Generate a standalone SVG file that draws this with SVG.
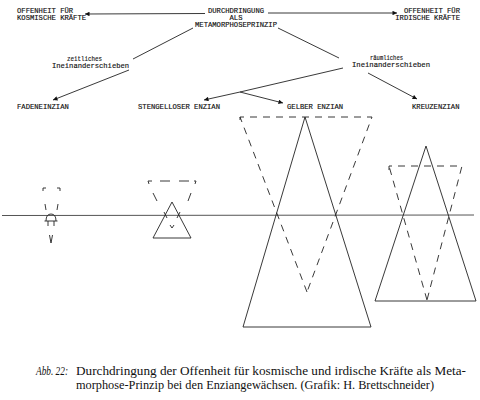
<svg xmlns="http://www.w3.org/2000/svg" width="480" height="400" viewBox="0 0 480 400">
<style>
.t{font-family:"Liberation Mono","DejaVu Sans Mono",monospace;font-size:7.2px;fill:#111;stroke:#111;stroke-width:0.15}
.c{fill:none;stroke:#222;stroke-width:0.9}
.s{fill:none;stroke:#222;stroke-width:0.9}
.d{fill:none;stroke:#222;stroke-width:0.9;stroke-dasharray:7,6}
.cap{font-family:"Liberation Serif","Times New Roman",serif;font-size:12.5px;fill:#111}
</style>
<defs>
<marker id="ah" viewBox="0 0 10 10" refX="10" refY="5" markerWidth="7" markerHeight="4.5" orient="auto" markerUnits="userSpaceOnUse">
<path d="M0,0 L10,5 L0,10 z" fill="#111"/>
</marker>
</defs>
<rect width="480" height="400" fill="#fff"/>

<g id="connectors">
<line class="c" x1="205" y1="13.5" x2="85" y2="14" marker-end="url(#ah)"/>
<line class="c" x1="268" y1="13" x2="397" y2="13" marker-end="url(#ah)"/>
<line class="c" x1="193" y1="28" x2="133" y2="59"/>
<line class="c" x1="129" y1="70" x2="53" y2="100" marker-end="url(#ah)"/>
<line class="c" x1="278" y1="28" x2="339" y2="58"/>
<line class="c" x1="343" y1="68" x2="240" y2="92"/>
<line class="c" x1="240" y1="92" x2="204" y2="100" marker-end="url(#ah)"/>
<line class="c" x1="240" y1="92" x2="283" y2="103" marker-end="url(#ah)"/>
<line class="c" x1="368" y1="73" x2="417" y2="99" marker-end="url(#ah)"/>
</g>

<g id="n-durchdringung">
<text class="t" x="236" y="12.5" text-anchor="middle">DURCHDRINGUNG</text>
<text class="t" x="236" y="19.5" text-anchor="middle">ALS</text>
<text class="t" x="236" y="27" text-anchor="middle">METAMORPHOSEPRINZIP</text>
</g>
<g id="n-kosmisch">
<text class="t" x="17" y="12.5">OFFENHEIT FÜR</text>
<text class="t" x="17" y="20">KOSMISCHE KRÄFTE</text>
</g>
<g id="n-irdisch">
<text class="t" x="460" y="12.5" text-anchor="end">OFFENHEIT FÜR</text>
<text class="t" x="460" y="19.5" text-anchor="end">IRDISCHE KRÄFTE</text>
</g>
<g id="n-zeitlich">
<text class="t" x="67" y="60.5" textLength="35" lengthAdjust="spacingAndGlyphs">zeitliches</text>
<text class="t" x="52" y="67.5" textLength="77" lengthAdjust="spacingAndGlyphs">Ineinanderschieben</text>
</g>
<g id="n-raeumlich">
<text class="t" x="370" y="60" textLength="33" lengthAdjust="spacingAndGlyphs">räumliches</text>
<text class="t" x="352" y="67" textLength="78" lengthAdjust="spacingAndGlyphs">Ineinanderschieben</text>
</g>
<g id="n-faden"><text class="t" x="17" y="108.5">FADENEINZIAN</text></g>
<g id="n-stengellos"><text class="t" x="138" y="108.5">STENGELLOSER ENZIAN</text></g>
<g id="n-gelb"><text class="t" x="287" y="108.5">GELBER ENZIAN</text></g>
<g id="n-kreuz"><text class="t" x="412" y="108.5">KREUZENZIAN</text></g>

<g id="ground">
<line x1="2" y1="215.5" x2="474" y2="215" stroke="#555" stroke-width="1"/>
</g>

<g id="fig-faden">
<path class="s" d="M43,191 L43,188 L46,188 M57,188 L60,188 L60,191 M45,204 L46,210 M58,204 L57,210"/>
<path class="s" d="M46,221 Q46,214 51,214 Q56,214 56,221 M44.5,221 L57.5,221 M48,221 L48,226 M54,221 L54,226"/>
<path class="s" d="M49.5,235 L51,243 L52.5,235"/>
</g>

<g id="fig-stengellos">
<path class="s" d="M149,184 L148,181 L152,181 M160,181 L170,181 M179,181 L189,181 M194,181 L196,181 L195,184 M153,193 L157,201 M191,193 L188,201 M164,212 L167,218 M180,212 L177,218 M170,225 L172,228 L174,225"/>
<polygon class="s" points="172,202 153,238 191,238"/>
</g>

<g id="fig-gelb">
<polyline class="d" points="240,120 240,117 372,117 307,292"/>
<polyline class="d" points="307,292 240,117"/>
<polygon class="s" points="305,117 243,327 371,327"/>
</g>

<g id="fig-kreuz">
<polyline class="d" points="389,170 389,166 462,166 427,300"/>
<polyline class="d" points="427,300 389,166"/>
<polygon class="s" points="426,146 375,301 476,301"/>
</g>

<g id="caption">
<text class="cap" x="36" y="375" font-style="italic" textLength="32" lengthAdjust="spacingAndGlyphs">Abb. 22:</text>
<text class="cap" x="76" y="375" textLength="390" lengthAdjust="spacingAndGlyphs">Durchdringung der Offenheit für kosmische und irdische Kräfte als Meta-</text>
<text class="cap" x="76" y="389" textLength="358" lengthAdjust="spacingAndGlyphs">morphose-Prinzip bei den Enziangewächsen. (Grafik: H. Brettschneider)</text>
</g>
</svg>
